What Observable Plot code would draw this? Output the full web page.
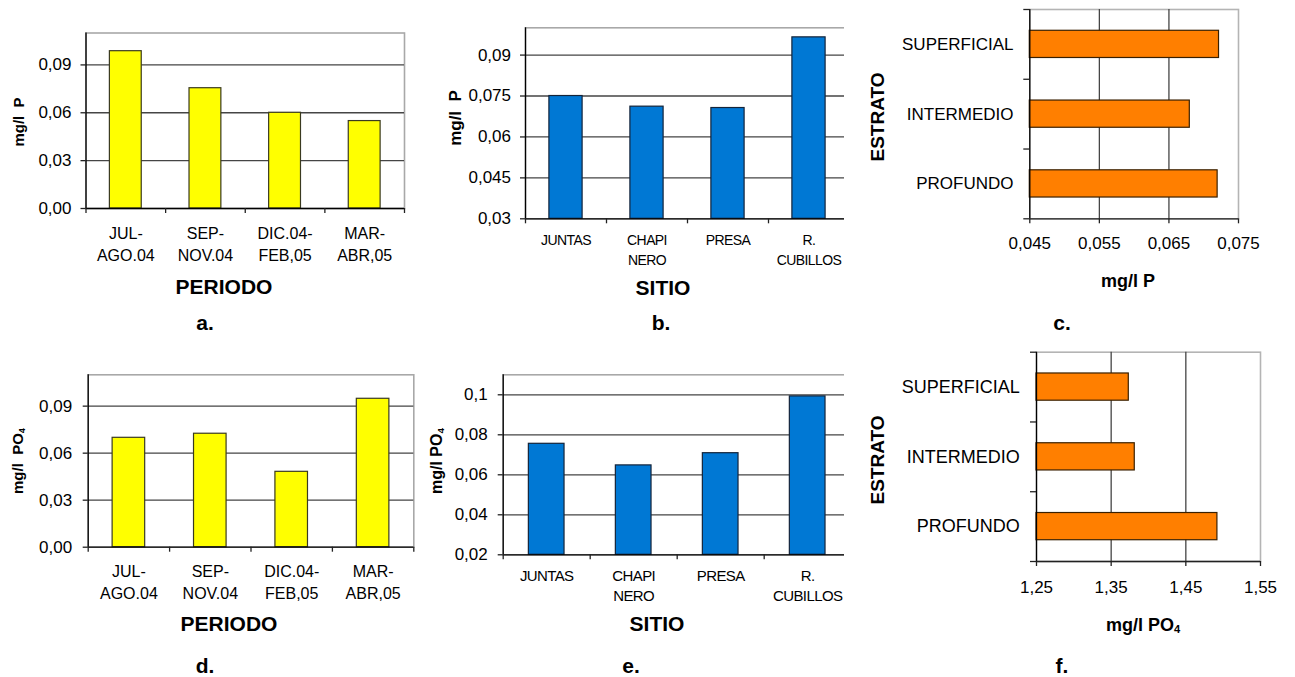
<!DOCTYPE html>
<html>
<head>
<meta charset="utf-8">
<script src="https://cdn.jsdelivr.net/npm/d3@7"></script>
<script src="https://cdn.jsdelivr.net/npm/@observablehq/plot@0.6"></script>
<style>
  body { margin: 0; background: #fff; }
  #fig { position: relative; width: 1295px; height: 677px; overflow: hidden;
         font-family: "Liberation Sans", Arial, sans-serif; color: #000; background: #fff; }
  .panel { position: absolute; overflow: hidden; }
  .panel svg { display: block; }
  .lbl { position: absolute; white-space: pre; line-height: 1; font-weight: bold; }
  .lbl .sub { font-size: 0.62em; position: relative; top: 0.18em; }
</style>
</head>
<body>
<div id="fig"></div>
<script>
// Categories and tick labels
const periods = ["JUL-AGO.04", "SEP-NOV.04", "DIC.04-FEB,05", "MAR-ABR,05"];
const periodLabels = ["JUL-\nAGO.04", "SEP-\nNOV.04", "DIC.04-\nFEB,05", "MAR-\nABR,05"];
const sites = ["JUNTAS", "CHAPINERO", "PRESA", "R. CUBILLOS"];
const siteLabels = ["JUNTAS", "CHAPI\nNERO", "PRESA", "R.\nCUBILLOS"];
const strata = ["SUPERFICIAL", "INTERMEDIO", "PROFUNDO"];

// Mean phosphorus (mg/l P) and phosphate (mg/l PO4)
const pByPeriod = [0.0986, 0.0754, 0.0600, 0.0548];
const pBySite = [0.0750, 0.0711, 0.0706, 0.0965];
const pByStratum = [0.0722, 0.0680, 0.0720];
const po4ByPeriod = [0.0698, 0.0724, 0.0481, 0.0947];
const po4BySite = [0.0755, 0.0647, 0.0708, 0.0992];
const po4ByStratum = [1.3736, 1.3816, 1.4923];

// Value-axis ticks and extents
const ticksA = [0, 0.03, 0.06, 0.09];
const ticksB = [0.03, 0.045, 0.06, 0.075, 0.09];
const ticksC = [0.045, 0.055, 0.065, 0.075];
const ticksD = [0, 0.03, 0.06, 0.09];
const ticksE = [0.02, 0.04, 0.06, 0.08, 0.1];
const ticksF = [1.25, 1.35, 1.45, 1.55];
const domainA = [0, 0.11];
const domainB = [0.03, 0.1];
const domainC = [0.045, 0.075];
const domainD = [0, 0.11];
const domainE = [0.02, 0.11];
const domainF = [1.25, 1.55];

const FONT = '"Liberation Sans", Arial, sans-serif';
const STYLE = {fontFamily: FONT, background: "transparent", color: "#000", overflow: "visible", maxWidth: "none"};
const comma = (d) => String(d).replace(".", ",");
const comma2 = (d) => d3.format(".2f")(d).replace(".", ",");

const fig = document.getElementById("fig");

function mount(svg, left, top, w, h) {
  const div = document.createElement("div");
  div.className = "panel";
  Object.assign(div.style, {left: left + "px", top: top + "px", width: w + "px", height: h + "px"});
  div.appendChild(svg);
  fig.appendChild(div);
}

// Set the font size (and optional tracking) of one axis's tick labels
function sizeAxis(svg, axis, size, tracking = null) {
  svg.querySelectorAll(`g[aria-label="${axis}-axis tick label"]`).forEach((g) => {
    g.setAttribute("font-size", size);
    if (tracking !== null) g.setAttribute("letter-spacing", tracking);
    g.querySelectorAll("text").forEach((t) => t.setAttribute("font-size", size));
  });
  return svg;
}

function label(text, cx, cy, size, rotate = false, sub = null) {
  const el = document.createElement("div");
  el.className = "lbl";
  el.textContent = text;
  if (sub) {
    const s = document.createElement("span");
    s.className = "sub";
    s.textContent = sub;
    el.appendChild(s);
  }
  Object.assign(el.style, {
    left: cx + "px", top: cy + "px", fontSize: size + "px",
    transform: "translate(-50%,-50%)" + (rotate ? " rotate(-90deg)" : "")
  });
  fig.appendChild(el);
}

// Vertical bar chart with category boundary ticks below the axis
function columns(o) {
  const plotW = o.width - o.ml - o.mr;
  const plotH = o.height - o.mt - o.mb;
  const step = plotW / o.cats.length;
  const base = o.domain[0];
  const idx = d3.range(o.cats.length);
  const last = o.cats[o.cats.length - 1];
  const svg = Plot.plot({
    width: o.width, height: o.height,
    marginLeft: o.ml, marginRight: o.mr, marginTop: o.mt, marginBottom: o.mb,
    style: STYLE,
    x: {type: "band", domain: o.cats, paddingInner: o.pad, paddingOuter: o.pad / 2, align: 0.5, round: false},
    y: {domain: o.domain},
    marks: [
      Plot.frame({stroke: "#a8a8a8", strokeWidth: 1.6}),
      Plot.gridY(o.ticks.slice(1), {stroke: "#454545", strokeOpacity: 1, strokeWidth: 1.3}),
      Plot.barY(idx, {x: (i) => o.cats[i], y1: () => base, y2: (i) => o.values[i],
        fill: o.fill, stroke: o.stroke, strokeWidth: 1.2}),
      Plot.ruleY([base], {stroke: "#000", strokeWidth: 1.3}),
      Plot.ruleX([o.cats[0]], {x: (d) => d, dx: -step / 2, stroke: "#000", strokeWidth: 1.3}),
      Plot.ruleX(o.cats, {x: (d) => d, dx: -step / 2, insetTop: plotH, insetBottom: -5, stroke: "#222", strokeWidth: 1.3}),
      Plot.ruleX([last], {x: (d) => d, dx: step / 2, insetTop: plotH, insetBottom: -5, stroke: "#222", strokeWidth: 1.3}),
      Plot.axisY(o.ticks, {tickSize: 5, tickPadding: o.yPad, tickFormat: o.fmt,
        stroke: "#222", strokeWidth: 1.3, label: null}),
      Plot.axisX(o.cats, {tickSize: 0, tickPadding: o.xPad, lineHeight: o.lh,
        tickFormat: (d) => o.labels[o.cats.indexOf(d)], label: null})
    ]
  });
  sizeAxis(svg, "x", o.xFont, o.tracking ?? null);
  return sizeAxis(svg, "y", o.yFont);
}

// Horizontal bar chart with category boundary ticks left of the axis
function bars(o) {
  const plotW = o.width - o.ml - o.mr;
  const plotH = o.height - o.mt - o.mb;
  const step = plotH / o.cats.length;
  const base = o.domain[0];
  const idx = d3.range(o.cats.length);
  const last = o.cats[o.cats.length - 1];
  const svg = Plot.plot({
    width: o.width, height: o.height,
    marginLeft: o.ml, marginRight: o.mr, marginTop: o.mt, marginBottom: o.mb,
    style: STYLE,
    y: {type: "band", domain: o.cats, paddingInner: o.pad, paddingOuter: o.pad / 2, align: 0.5, round: false},
    x: {domain: o.domain},
    marks: [
      Plot.frame({stroke: "#b4b4b4", strokeWidth: 1.6}),
      Plot.gridX(o.ticks.slice(1, -1), {stroke: "#454545", strokeOpacity: 1, strokeWidth: 1.3}),
      Plot.barX(idx, {y: (i) => o.cats[i], x1: () => base, x2: (i) => o.values[i],
        fill: o.fill, stroke: o.stroke, strokeWidth: 1.2}),
      Plot.ruleX([base], {stroke: "#000", strokeWidth: 1.3}),
      Plot.ruleY([last], {y: (d) => d, dy: step / 2, stroke: "#222", strokeWidth: 1.3}),
      Plot.ruleY(o.cats, {y: (d) => d, dy: -step / 2, insetLeft: -6, insetRight: plotW, stroke: "#222", strokeWidth: 1.3}),
      Plot.ruleY([last], {y: (d) => d, dy: step / 2, insetLeft: -6, insetRight: plotW, stroke: "#222", strokeWidth: 1.3}),
      Plot.axisX(o.ticks, {tickSize: 5, tickPadding: o.xPad, tickFormat: comma,
        stroke: "#222", strokeWidth: 1.3, label: null}),
      Plot.axisY(o.cats, {tickSize: 0, tickPadding: o.yPad, label: null})
    ]
  });
  sizeAxis(svg, "x", o.xFont);
  return sizeAxis(svg, "y", o.yFont);
}

// a. phosphorus by period
mount(columns({
  width: 440, height: 330, ml: 85.5, mr: 36, mt: 32.5, mb: 122,
  cats: periods, labels: periodLabels, values: pByPeriod, domain: domainA, ticks: ticksA,
  fmt: comma2, pad: 0.6, fill: "#ffff00", stroke: "#3a3a20",
  yFont: 17, yPad: 9.5, xFont: 16, xPad: 14.7, lh: 1.38
}), 0, 0, 440, 330);

// b. phosphorus by site (cut off at its right edge)
mount(columns({
  width: 430, height: 330, ml: 95, mr: 11, mt: 27.3, mb: 111.7,
  cats: sites, labels: siteLabels, values: pBySite, domain: domainB, ticks: ticksB,
  fmt: comma, pad: 0.59, fill: "#0078d4", stroke: "#14243a",
  yFont: 17, yPad: 9.5, xFont: 14, xPad: 12.2, lh: 1.43, tracking: -0.6
}), 430, 0, 414, 330);

// c. phosphorus by stratum
mount(bars({
  width: 435, height: 330, ml: 169.3, mr: 57, mt: 9, mb: 111.7,
  cats: strata, values: pByStratum, domain: domainC, ticks: ticksC,
  pad: 0.61, fill: "#ff7f00", stroke: "#3a2000",
  xFont: 17, xPad: 13.5, yFont: 17, yPad: 16.3
}), 860, 0, 435, 330);

// d. phosphate by period
mount(columns({
  width: 440, height: 347, ml: 87.7, mr: 26.7, mt: 44.3, mb: 130.3,
  cats: periods, labels: periodLabels, values: po4ByPeriod, domain: domainD, ticks: ticksD,
  fmt: comma2, pad: 0.6, fill: "#ffff00", stroke: "#3a3a20",
  yFont: 17, yPad: 11, xFont: 16, xPad: 14.1, lh: 1.38
}), 0, 330, 440, 347);

// e. phosphate by site (cut off at its right edge)
mount(columns({
  width: 430.7, height: 347, ml: 72.7, mr: 10, mt: 44.3, mb: 122.7,
  cats: sites, labels: siteLabels, values: po4BySite, domain: domainE, ticks: ticksE,
  fmt: comma, pad: 0.59, fill: "#0078d4", stroke: "#14243a",
  yFont: 17, yPad: 10.5, xFont: 15, xPad: 12, lh: 1.33, tracking: -0.6
}), 430, 330, 414, 347);

// f. phosphate by stratum
mount(bars({
  width: 435, height: 347, ml: 176, mr: 35, mt: 21.7, mb: 116,
  cats: strata, values: po4ByStratum, domain: domainF, ticks: ticksF,
  pad: 0.61, fill: "#ff7f00", stroke: "#3a2000",
  xFont: 17, xPad: 14, yFont: 18, yPad: 16.7
}), 860, 330, 435, 347);

// Axis titles and panel letters
label("PERIODO", 224, 286, 21);
label("mg/l  P", 18, 122, 15, true);
label("a.", 205, 322, 21);

label("SITIO", 663, 287, 21);
label("mg/l  P", 455, 118, 17, true);
label("b.", 661, 322, 21);

label("ESTRATO", 877, 117, 19, true);
label("mg/l P", 1128, 281, 18);
label("c.", 1062, 322, 21);

label("PERIODO", 229, 623, 21);
label("mg/l  PO", 18, 461, 15, true, "4");
label("d.", 205, 664.5, 21);

label("SITIO", 657, 623, 21);
label("mg/l PO", 437, 461, 16, true, "4");
label("e.", 631, 664.5, 21);

label("ESTRATO", 877, 460, 19, true);
label("mg/l PO", 1143, 625, 18, false, "4");
label("f.", 1062, 665, 21);
</script>
</body>
</html>
